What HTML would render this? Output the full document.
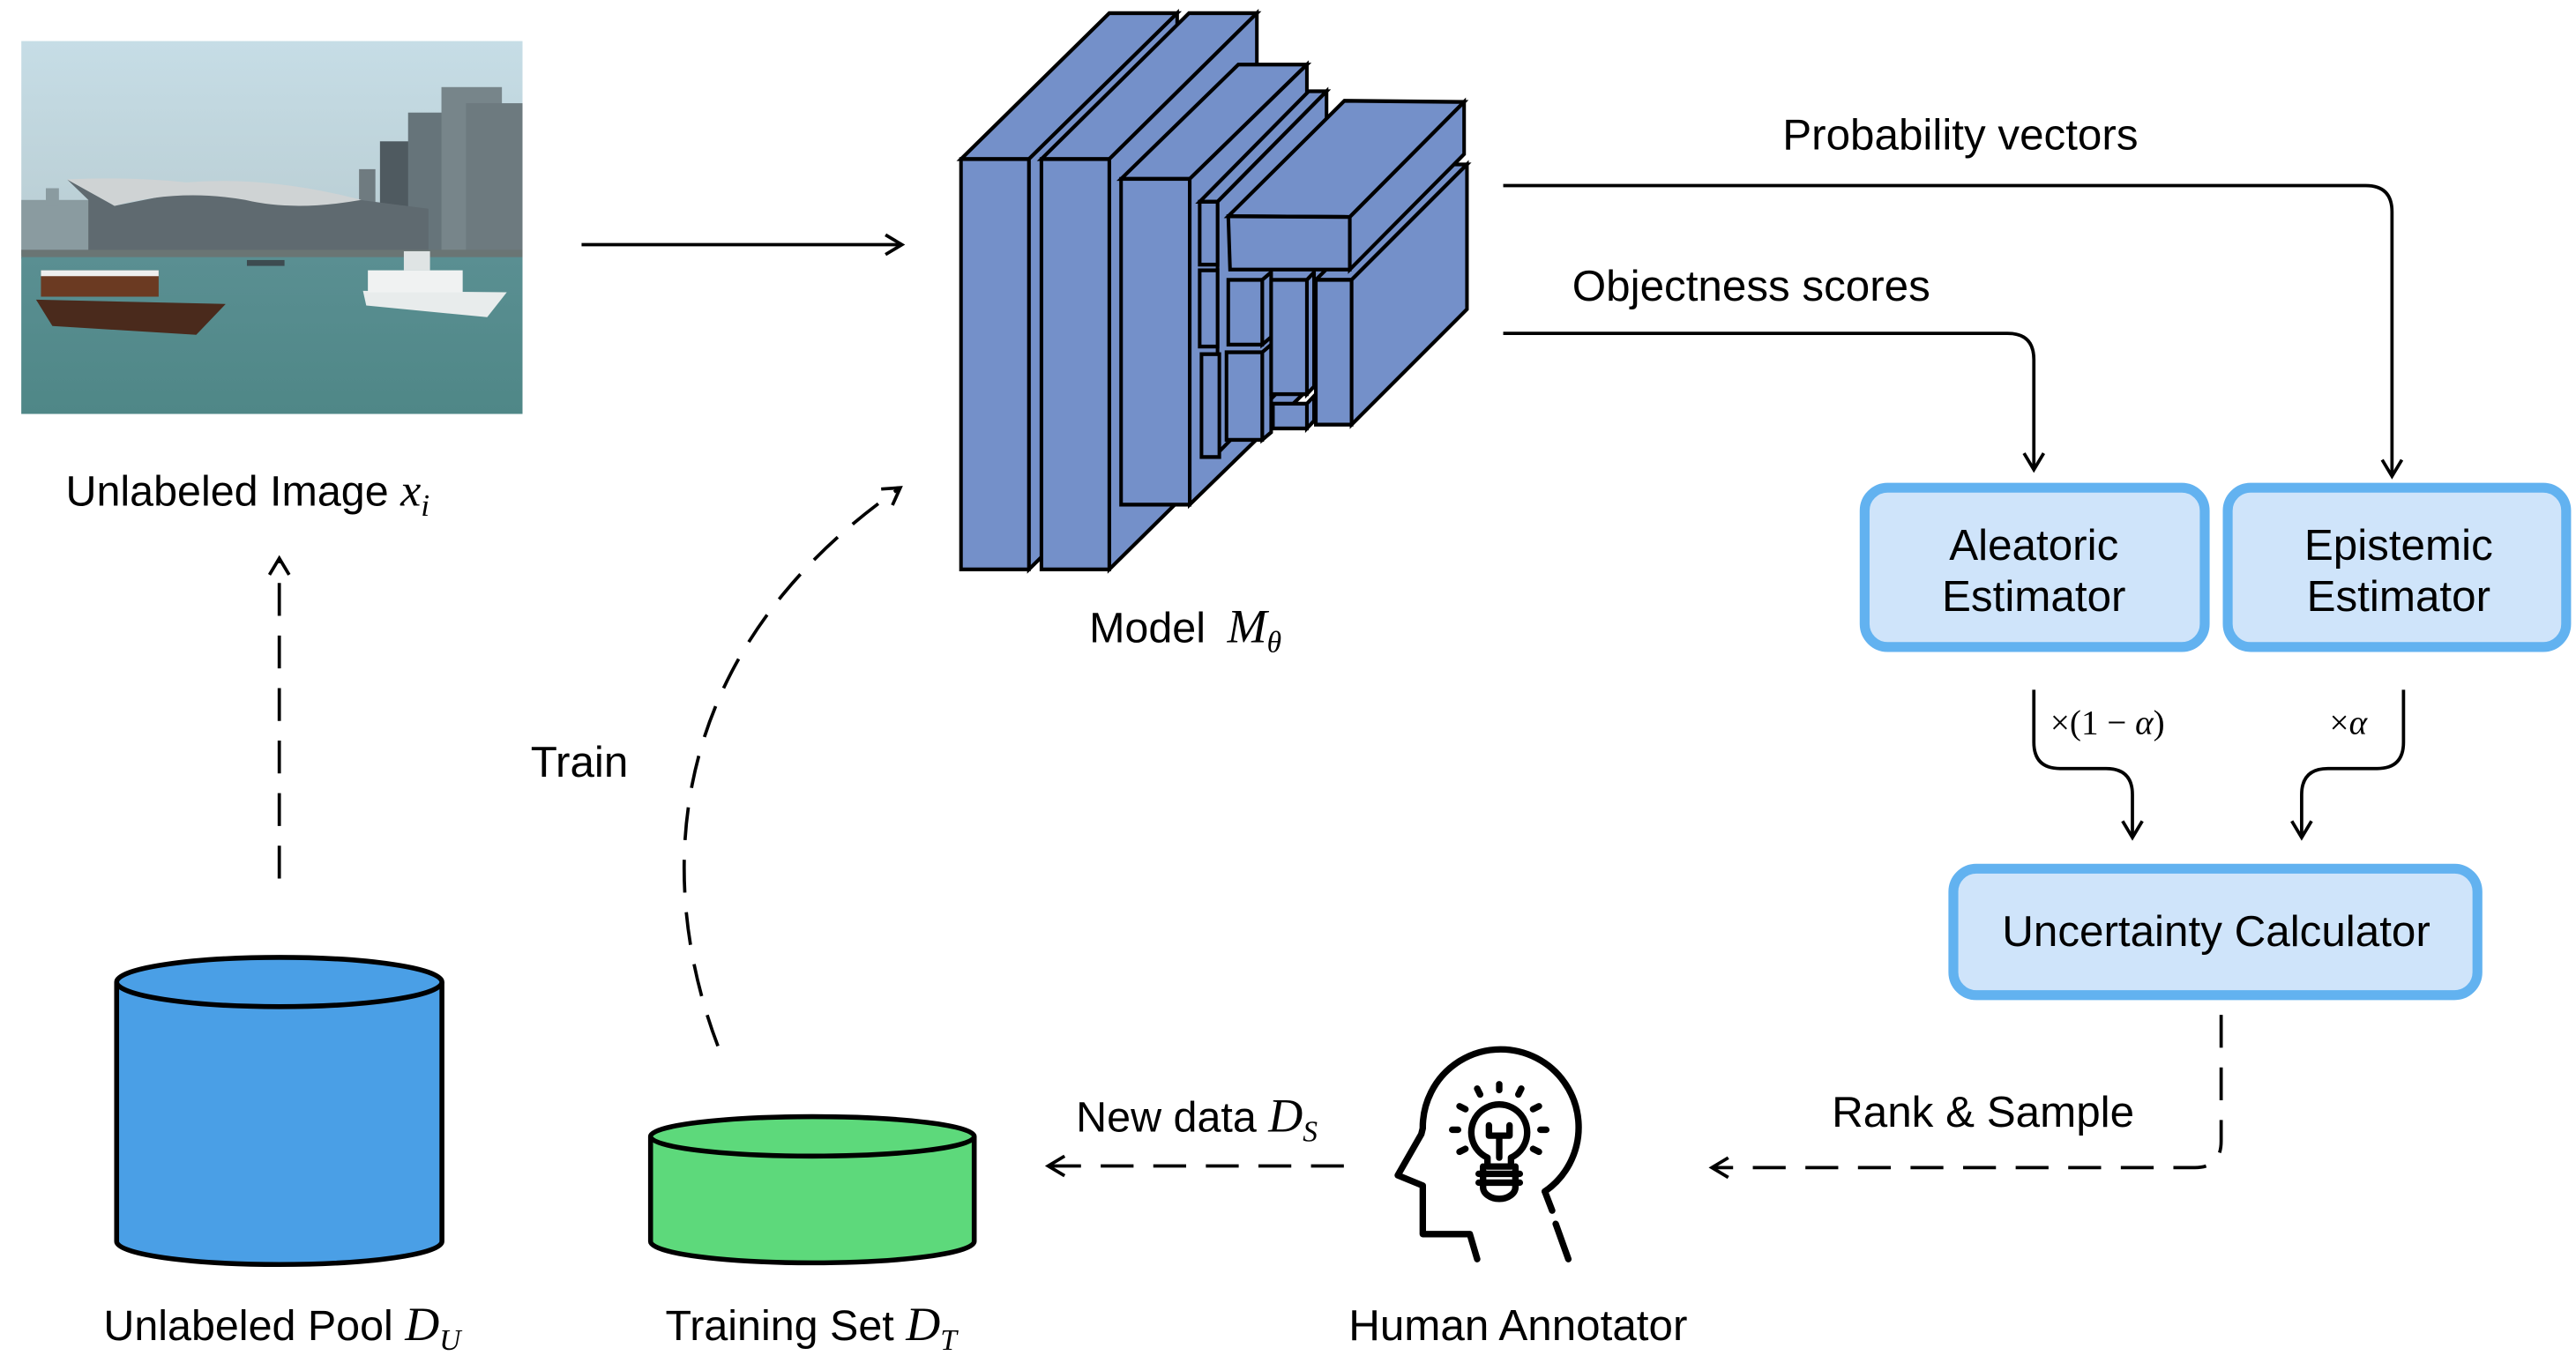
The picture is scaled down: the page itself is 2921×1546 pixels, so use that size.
<!DOCTYPE html>
<html><head><meta charset="utf-8"><style>
html,body{margin:0;padding:0;background:#fff;}
svg{display:block;}
text{font-family:"Liberation Sans",sans-serif;fill:#000;}
.m{font-family:"Liberation Serif",serif;font-style:italic;}
</style></head><body>
<svg width="2921" height="1546" viewBox="0 0 1568 830" preserveAspectRatio="none" xmlns="http://www.w3.org/2000/svg">
<defs>
<marker id="ah" markerUnits="userSpaceOnUse" markerWidth="16" markerHeight="16" refX="13" refY="8" orient="auto">
<path d="M3,2 L13,8 L3,14" fill="none" stroke="#000" stroke-width="2"/>
</marker>
<linearGradient id="sky" x1="0" y1="0" x2="0" y2="1"><stop offset="0" stop-color="#c6dde6"/><stop offset="1" stop-color="#aebfc2"/></linearGradient>
<linearGradient id="sea" x1="0" y1="0" x2="0" y2="1"><stop offset="0" stop-color="#5a8f92"/><stop offset="1" stop-color="#4f8787"/></linearGradient>
</defs>

<!-- Photo -->
<g transform="translate(10,21.8) scale(0.199,0.1785)">
<rect x="15" y="18" width="1533" height="1272" fill="url(#sky)"/>
<rect x="15" y="560" width="210" height="190" fill="#8a9ba0"/>
<rect x="90" y="520" width="40" height="60" fill="#8a9ba0"/>
<rect x="1048" y="455" width="50" height="300" fill="#6f7b80"/>
<rect x="1112" y="360" width="90" height="400" fill="#4f5a60"/>
<rect x="1198" y="262" width="120" height="500" fill="#66747a"/>
<rect x="1300" y="175" width="185" height="590" fill="#77858a"/>
<rect x="1375" y="230" width="173" height="540" fill="#6d7a7f"/>
<path d="M155,490 L300,580 L480,540 Q700,470 1050,560 L1260,590 L1260,745 L220,745 L220,560 Z" fill="#5f6a70"/>
<path d="M155,490 Q350,480 520,500 Q750,480 1000,545 L1055,560 Q850,600 700,560 Q500,520 300,580 Z" fill="#cfd3d4"/>
<rect x="15" y="730" width="1533" height="30" fill="#6a7574"/>
<rect x="15" y="755" width="1533" height="535" fill="url(#sea)"/>
<path d="M60,900 L640,915 L550,1020 L110,990 Z" fill="#4a2a1c"/>
<rect x="75" y="800" width="360" height="90" fill="#6b3a22"/>
<rect x="75" y="800" width="360" height="20" fill="#eee"/>
<path d="M1060,870 L1500,875 L1440,960 L1070,920 Z" fill="#e8ecec"/>
<rect x="1075" y="800" width="290" height="75" fill="#f0f2f2"/>
<rect x="1185" y="735" width="80" height="65" fill="#dfe4e4"/>
<rect x="705" y="765" width="115" height="20" fill="#3d4b50"/>
</g>

<text x="40" y="308" font-size="26">Unlabeled Image <tspan class="m" font-size="28">x</tspan><tspan class="m" font-size="19" dy="6">i</tspan></text>

<line x1="354" y1="149" x2="549" y2="149" stroke="#000" stroke-width="2" marker-end="url(#ah)"/>

<!-- Model -->
<g transform="translate(569.3,-0.1) scale(0.2175,0.232)" fill="#7490c9" stroke="#000" stroke-width="10" stroke-linejoin="miter">
<polygon points="72,418 487,35 677,35 262,418"/>
<polygon points="262,418 677,35 677,1112 262,1495"/>
<rect x="72" y="418" width="190" height="1077"/>
<polygon points="297,418 710,35 900,35 487,418"/>
<polygon points="487,418 900,35 900,1112 487,1495"/>
<rect x="297" y="418" width="190" height="1077"/>
<polygon points="520,470 848,170 1040,170 712,470"/>
<polygon points="712,470 1040,170 1040,1025 712,1325"/>
<rect x="520" y="470" width="192" height="855"/>
<polygon points="740,530 1045,240 1095,240 790,530"/>
<polygon points="790,530 1095,240 1095,900 790,1190"/>
<rect x="740" y="530" width="50" height="165"/>
<rect x="740" y="710" width="50" height="200"/>
<rect x="745" y="930" width="50" height="270"/>
<polygon points="1065,735 1388,432 1488,432 1165,735"/>
<polygon points="1165,735 1488,432 1488,812 1165,1115"/>
<rect x="1065" y="735" width="100" height="380"/>
<polygon points="915,735 940,715 940,885 915,905"/>
<rect x="820" y="735" width="95" height="170"/>
<polygon points="915,925 940,905 940,1135 915,1155"/>
<rect x="815" y="925" width="100" height="230"/>
<polygon points="1040,735 1060,715 1060,1015 1040,1035"/>
<rect x="940" y="735" width="100" height="300"/>
<polygon points="1040,1060 1060,1040 1060,1105 1040,1125"/>
<rect x="945" y="1060" width="95" height="65"/>
<polygon points="820,568 1145,265 1480,268 1160,570"/>
<polygon points="1160,570 1480,268 1480,405 1160,708"/>
<polygon points="820,568 1160,570 1160,708 825,708"/>
</g>

<text x="663" y="391" font-size="26">Model <tspan class="m" font-size="29" dx="6">M</tspan><tspan class="m" font-size="18" dy="6">θ</tspan></text>

<text x="1085" y="91" font-size="26.5">Probability vectors</text>
<path d="M915,113 H1440 Q1456,113 1456,129 V290" fill="none" stroke="#000" stroke-width="2" marker-end="url(#ah)"/>
<text x="957" y="183" font-size="26.5">Objectness scores</text>
<path d="M915,203 H1222 Q1238,203 1238,219 V286" fill="none" stroke="#000" stroke-width="2" marker-end="url(#ah)"/>

<rect x="1135" y="297" width="207" height="97" rx="14" fill="#cfe4fa" stroke="#62b2f0" stroke-width="6"/>
<text x="1238" y="341" font-size="26.5" text-anchor="middle">Aleatoric</text>
<text x="1238" y="372" font-size="26.5" text-anchor="middle">Estimator</text>
<rect x="1356" y="297" width="206" height="97" rx="14" fill="#cfe4fa" stroke="#62b2f0" stroke-width="6"/>
<text x="1460" y="341" font-size="26.5" text-anchor="middle">Epistemic</text>
<text x="1460" y="372" font-size="26.5" text-anchor="middle">Estimator</text>

<path d="M1238,420 V452 Q1238,468 1254,468 H1282 Q1298,468 1298,484 V510" fill="none" stroke="#000" stroke-width="2" marker-end="url(#ah)"/>
<path d="M1463,420 V452 Q1463,468 1447,468 H1417 Q1401,468 1401,484 V510" fill="none" stroke="#000" stroke-width="2" marker-end="url(#ah)"/>
<text x="1248" y="447" font-size="21" style="font-family:'Liberation Serif',serif">×(1 − <tspan font-style="italic">α</tspan>)</text>
<text x="1418" y="447" font-size="21" style="font-family:'Liberation Serif',serif">×<tspan font-style="italic">α</tspan></text>

<rect x="1189" y="529" width="319" height="77" rx="14" fill="#cfe4fa" stroke="#62b2f0" stroke-width="6"/>
<text x="1349" y="576" font-size="26.5" text-anchor="middle">Uncertainty Calculator</text>

<path d="M1352,618 V695 Q1352,711 1336,711 H1042" fill="none" stroke="#000" stroke-width="2" stroke-dasharray="20,12" marker-end="url(#ah)"/>
<text x="1115" y="686" font-size="26.5">Rank &amp; Sample</text>

<g transform="translate(837.4,628) scale(0.179)" fill="none" stroke="#000" stroke-width="22" stroke-linecap="round" stroke-linejoin="round">
<path d="M575,545 A265,265 0 1 0 160,330 L155,350 L75,490 L160,525 L160,690 L320,690 L345,775"/>
<path d="M575,545 L600,610 M612,655 L655,775"/>
<path d="M380,430 A95,95 0 1 1 460,430 L460,460 L380,460 Z"/>
<path d="M350,485 H490 M350,515 H490 M365,460 V530 A55,40 0 0 0 475,530 V460"/>
<path d="M385,320 V355 H455 V320 M420,355 V430"/>
<path d="M420,180 V200 M345,195 L355,215 M495,195 L485,215 M285,255 L305,265 M555,255 L535,265 M260,335 H280 M560,335 H580 M285,410 L305,400 M555,410 L535,400"/>
</g>
<text x="924" y="816" font-size="26.5" text-anchor="middle">Human Annotator</text>

<line x1="818" y1="710" x2="638" y2="710" stroke="#000" stroke-width="2" stroke-dasharray="20,12" marker-end="url(#ah)"/>
<text x="655" y="689" font-size="26">New data <tspan class="m" font-size="29">D</tspan><tspan class="m" font-size="18" dy="6">S</tspan></text>

<path d="M396,692 V756 A98.5,13 0 0 0 593,756 V692" fill="#5dd97b" stroke="#000" stroke-width="3"/>
<ellipse cx="494.5" cy="692" rx="98.5" ry="12" fill="#5dd97b" stroke="#000" stroke-width="3"/>
<text x="405" y="816" font-size="26">Training Set <tspan class="m" font-size="29">D</tspan><tspan class="m" font-size="18" dy="6">T</tspan></text>

<path d="M71,598 V756 A99,14 0 0 0 269,756 V598" fill="#4a9fe6" stroke="#000" stroke-width="3"/>
<ellipse cx="170" cy="598" rx="99" ry="15" fill="#4a9fe6" stroke="#000" stroke-width="3"/>
<text x="63" y="816" font-size="26">Unlabeled Pool <tspan class="m" font-size="29">D</tspan><tspan class="m" font-size="18" dy="6">U</tspan></text>

<line x1="170" y1="535" x2="170" y2="340" stroke="#000" stroke-width="2" stroke-dasharray="20,12" marker-end="url(#ah)"/>

<path d="M437,637 C400,540 400,400 548,297" fill="none" stroke="#000" stroke-width="2" stroke-dasharray="20,12" marker-end="url(#ah)"/>
<text x="323" y="473" font-size="26.5">Train</text>
</svg>
</body></html>
